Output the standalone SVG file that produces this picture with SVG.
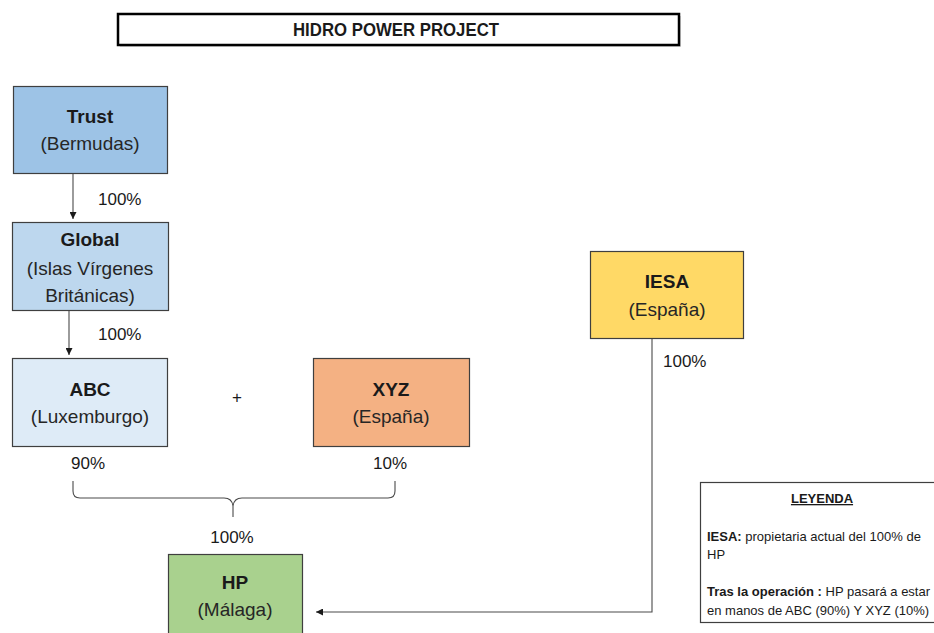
<svg xmlns="http://www.w3.org/2000/svg" width="934" height="633" viewBox="0 0 934 633">
  <defs>
    <marker id="arrow" viewBox="0 0 10 10" refX="10" refY="5" markerWidth="7" markerHeight="7" orient="auto" markerUnits="userSpaceOnUse">
      <path d="M0,0 L10,5 L0,10 z" fill="#1a1a1a"/>
    </marker>
  </defs>
  <style>
    text { font-family: "Liberation Sans", Arial, sans-serif; fill: #1a1a1a; }
    .box { stroke: #3f3f3f; stroke-width: 1.2; }
    .name { font-size: 19px; font-weight: bold; text-anchor: middle; }
    .place { font-size: 19px; text-anchor: middle; fill: #262626; }
    .pct { font-size: 17px; }
    .conn { fill: none; stroke: #4a4a4a; stroke-width: 1.1; }
    .legend { font-size: 13px; }
  </style>
  <rect width="934" height="633" fill="#ffffff"/>

  <!-- title banner -->
  <g id="title">
    <rect x="120" y="16" width="561" height="31" fill="#d8d8d8"/>
    <rect x="118" y="14" width="561" height="31" fill="#ffffff" stroke="#000000" stroke-width="2.5"/>
    <text x="396" y="36" font-size="18" font-weight="bold" text-anchor="middle" textLength="206" lengthAdjust="spacingAndGlyphs" fill="#000">HIDRO POWER PROJECT</text>
  </g>

  <!-- companies -->
  <g id="trust">
    <rect class="box" x="13.5" y="86.5" width="154" height="87" fill="#9dc3e6"/>
    <text class="name" x="90" y="123">Trust</text>
    <text class="place" x="90" y="150">(Bermudas)</text>
  </g>
  <g id="global">
    <rect class="box" x="12.5" y="222.5" width="156" height="88" fill="#bdd7ee"/>
    <text class="name" x="90" y="246">Global</text>
    <text class="place" x="90" y="275">(Islas Vírgenes</text>
    <text class="place" x="90" y="302">Británicas)</text>
  </g>
  <g id="abc">
    <rect class="box" x="12.5" y="358.5" width="155" height="88" fill="#deebf7"/>
    <text class="name" x="90" y="396">ABC</text>
    <text class="place" x="90" y="423">(Luxemburgo)</text>
  </g>
  <g id="xyz">
    <rect class="box" x="313.5" y="358.5" width="156" height="88" fill="#f4b183"/>
    <text class="name" x="391" y="396">XYZ</text>
    <text class="place" x="391" y="423">(España)</text>
  </g>
  <g id="iesa">
    <rect class="box" x="590.5" y="251.5" width="153" height="87" fill="#ffd966"/>
    <text class="name" x="667" y="288">IESA</text>
    <text class="place" x="667" y="316">(España)</text>
  </g>
  <g id="hp">
    <rect class="box" x="168.5" y="554.5" width="134" height="90" fill="#a9d18e"/>
    <text class="name" x="235" y="589">HP</text>
    <text class="place" x="235" y="616">(Málaga)</text>
  </g>

  <!-- ownership connectors -->
  <g id="connectors">
    <line class="conn" x1="73" y1="174" x2="73" y2="219" marker-end="url(#arrow)"/>
    <line class="conn" x1="69" y1="311" x2="69" y2="355" marker-end="url(#arrow)"/>
    <!-- curly brace joining ABC and XYZ stakes -->
    <path class="conn" d="M73,481 L73,491 Q73,498 80,498 L224,498 Q232,498 233,506 L233,517 M233,506 Q234,498 242,498 L388,498 Q395,498 395,491 L395,481"/>
    <polyline class="conn" points="652,339 652,612 316,612" marker-end="url(#arrow)"/>
    <text class="pct" x="98" y="205">100%</text>
    <text class="pct" x="98" y="340">100%</text>
    <text class="pct" x="88" y="469" text-anchor="middle">90%</text>
    <text class="pct" x="390" y="469" text-anchor="middle">10%</text>
    <text class="pct" x="232" y="543" text-anchor="middle">100%</text>
    <text class="pct" x="663" y="367">100%</text>
    <text x="237" y="403" font-size="17" text-anchor="middle">+</text>
  </g>

  <!-- legend -->
  <g id="leyenda">
    <rect x="700.5" y="482.5" width="260" height="140" fill="#ffffff" stroke="#3f3f3f" stroke-width="1.2"/>
    <text class="legend" x="822" y="503" font-weight="bold" text-anchor="middle" text-decoration="underline">LEYENDA</text>
    <text class="legend" x="707" y="541"><tspan font-weight="bold">IESA:</tspan> propietaria  actual del 100% de</text>
    <text class="legend" x="707" y="559">HP</text>
    <text class="legend" x="707" y="596"><tspan font-weight="bold">Tras la operación</tspan><tspan font-weight="bold"> : </tspan>HP pasará a estar</text>
    <text class="legend" x="707" y="615">en manos de ABC (90%) Y XYZ (10%)</text>
  </g>
</svg>
